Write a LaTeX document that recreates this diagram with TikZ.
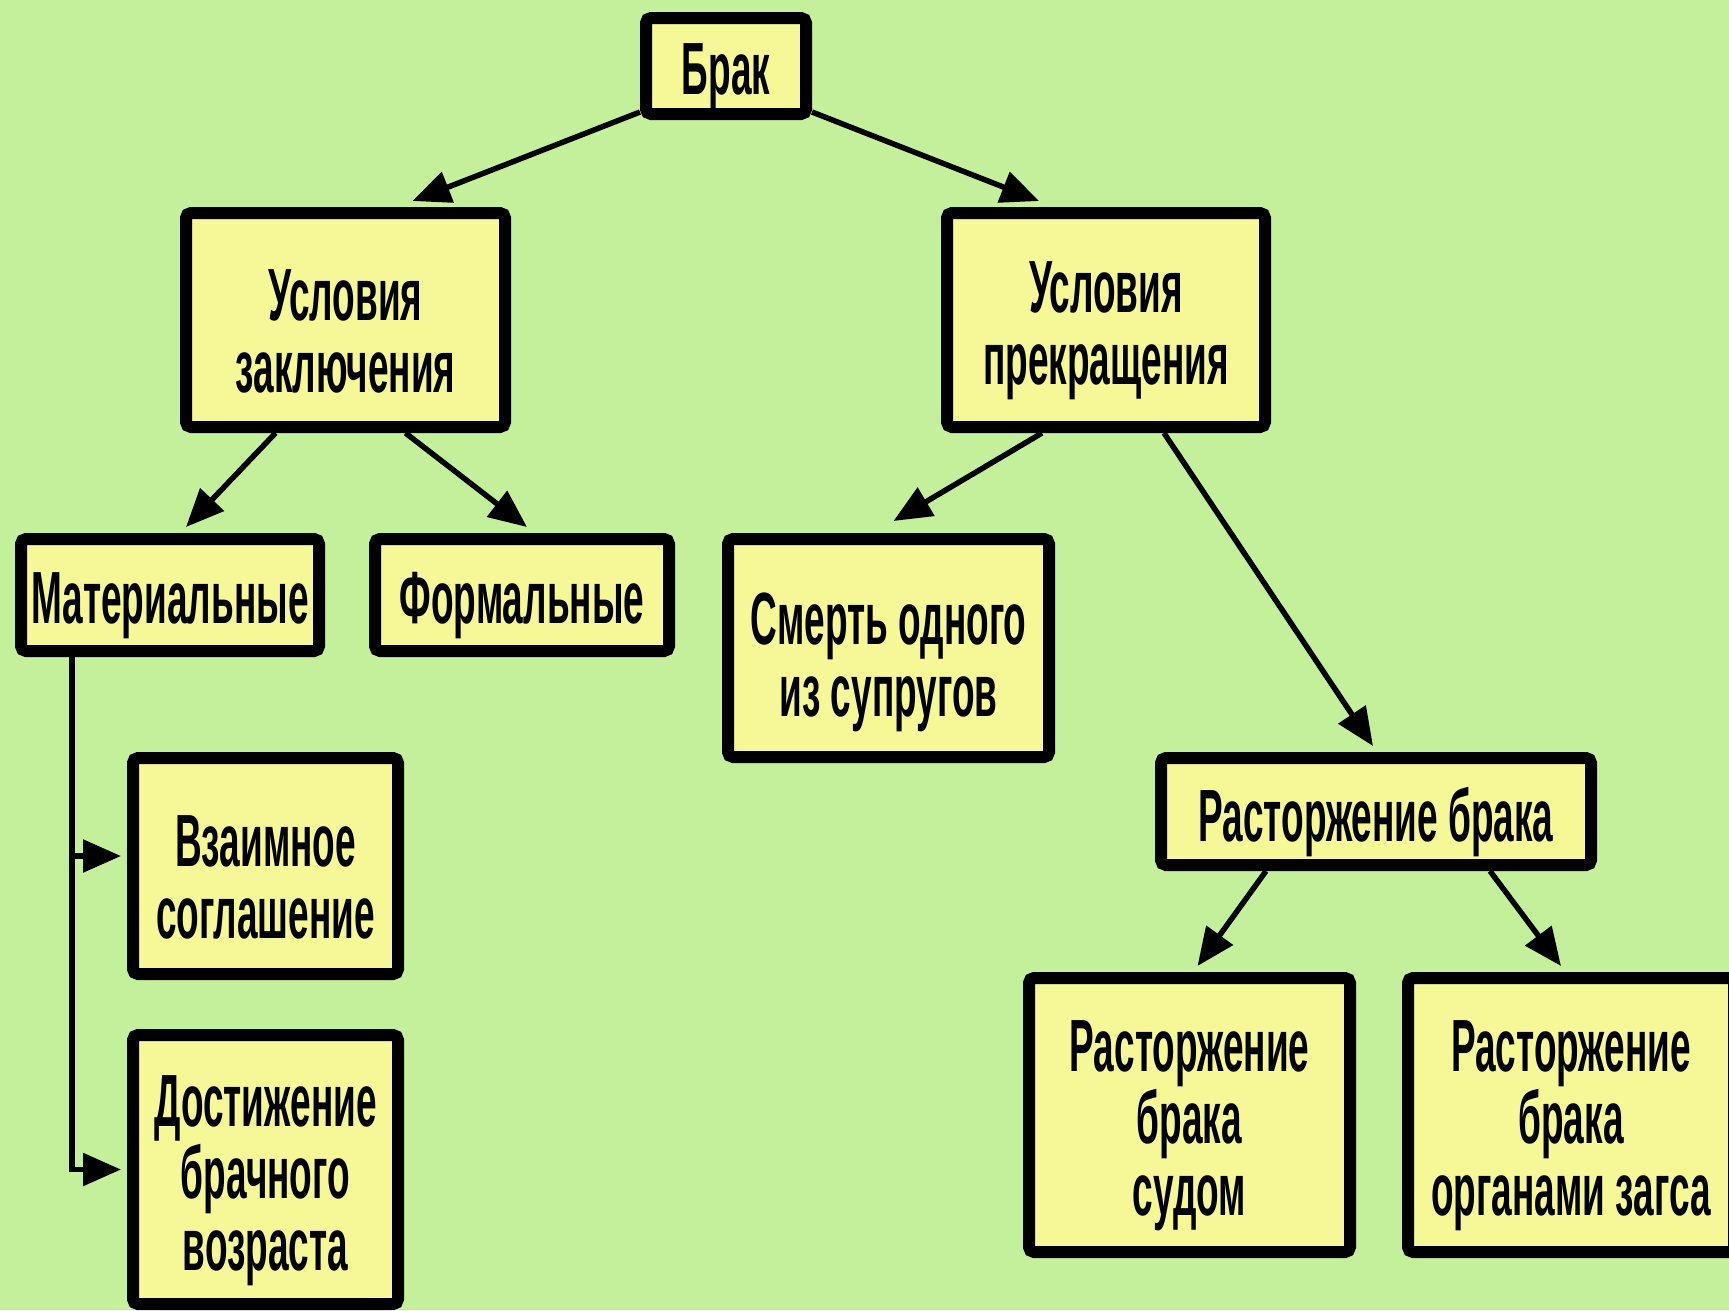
\documentclass[tikz,border=0pt]{standalone}
\usepackage{fontspec}
\setmainfont[FakeStretch=0.5]{Liberation Sans}
\usetikzlibrary{arrows.meta,calc}
\definecolor{bgc}{RGB}{197,240,155}
\definecolor{boxc}{RGB}{246,247,150}
\begin{document}
\begin{tikzpicture}[x=1pt,y=-1pt,
  box/.style={draw=black, line width=12pt, fill=boxc, rounded corners=5pt, inner sep=0pt},
  txt/.style={align=center, inner sep=0pt, yshift=-11pt, font=\fontsize{74}{72}\bfseries\selectfont},
  conn/.style={line width=5.5pt, -{Triangle[length=38pt,width=32pt]}}]
\clip (0,0) rectangle (1729,1310);
\fill[bgc] (0,0) rectangle (1729,1310);

\node[box, minimum width=160pt, minimum height=96pt, label={[txt]center:Брак}] (brak) at (726,66) {};
\node[box, minimum width=319pt, minimum height=214pt, label={[txt]center:{Условия\\заключения}}] (uz) at (345.5,320) {};
\node[box, minimum width=318pt, minimum height=214pt, label={[txt]center:{Условия\\прекращения}}] (up) at (1106,320) {};
\node[box, minimum width=298pt, minimum height=112pt, label={[txt]center:Материальные}] (mat) at (170,595) {};
\node[box, minimum width=294pt, minimum height=112pt, label={[txt]center:Формальные}] (form) at (522,595) {};
\node[box, minimum width=321pt, minimum height=218pt, label={[txt,yshift=-3pt]center:{Смерть одного\\из супругов}}] (smert) at (888.5,648) {};
\node[box, minimum width=430pt, minimum height=107pt, label={[txt]center:{Расторжение брака}}] (rast) at (1376,811.5) {};
\node[box, minimum width=265pt, minimum height=216pt, label={[txt]center:{Взаимное\\соглашение}}] (vz) at (265.5,866) {};
\node[box, minimum width=265pt, minimum height=269pt, label={[txt]center:{Достижение\\брачного\\возраста}}] (dost) at (265.5,1169.5) {};
\node[box, minimum width=321pt, minimum height=274pt, label={[txt]center:{Расторжение\\брака\\судом}}] (sud) at (1189.5,1115) {};
\node[box, minimum width=326pt, minimum height=274pt, label={[txt]center:{Расторжение\\брака\\органами загса}}] (zags) at (1571,1115) {};

\draw[conn] ([yshift=8pt]brak.south west) -- ($(uz.north)+(67,-6)$);
\draw[conn] ([yshift=8pt]brak.south east) -- ($(up.north)+(-67,-6)$);
\draw[conn] ($(uz.south)+(-70,0)$) -- ($(mat.north)+(16,-6)$);
\draw[conn] ($(uz.south)+(60,0)$) -- ($(form.north)+(5,-6)$);
\draw[conn] ($(up.south)+(-64,0)$) -- ($(smert.north)+(5,-12)$);
\draw[conn] ($(up.south)+(58,0)$) -- ($(rast.north)+(-3,-6)$);
\draw[conn] ($(rast.south)+(-110,0)$) -- ($(sud.north)+(8,-6)$);
\draw[conn] ($(rast.south)+(114,0)$) -- ($(zags.north)+(-10,-6)$);

\coordinate (mv) at ([xshift=57pt]mat.south west);
\coordinate (vzin) at ([xshift=-6pt,yshift=10pt]vz.west);
\coordinate (dostin) at ([xshift=-6pt]dost.west);
\draw[conn] (mv) |- (dostin);
\draw[conn] (mv |- vzin) -- (vzin);
\end{tikzpicture}
\end{document}
